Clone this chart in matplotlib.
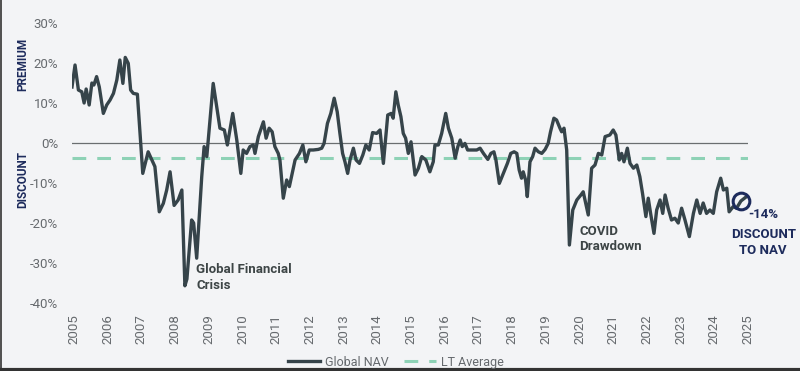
import matplotlib
matplotlib.use("Agg")
import matplotlib.pyplot as plt
from matplotlib.lines import Line2D

plt.rcParams['font.family'] = ['Roboto', 'DejaVu Sans']

# dados (ano decimal, prêmio/desconto em %)
years = [2004.94, 2005.03, 2005.13, 2005.23, 2005.30, 2005.36, 2005.45, 2005.53, 2005.59, 2005.67,
         2005.75, 2005.87, 2005.97, 2006.07, 2006.17, 2006.27, 2006.36, 2006.45, 2006.52, 2006.61,
         2006.68, 2006.76, 2006.88, 2007.04, 2007.20, 2007.31, 2007.40, 2007.53, 2007.65, 2007.75,
         2007.85, 2007.97, 2008.09, 2008.20, 2008.29, 2008.35, 2008.49, 2008.55, 2008.64, 2008.79,
         2008.86, 2008.94, 2009.13, 2009.33, 2009.46, 2009.55, 2009.71, 2009.83, 2009.95, 2010.02,
         2010.12, 2010.22, 2010.32, 2010.37, 2010.47, 2010.62, 2010.70, 2010.79, 2010.88, 2010.96,
         2011.06, 2011.11, 2011.21, 2011.31, 2011.39, 2011.56, 2011.69, 2011.79, 2011.88, 2011.98,
         2012.10, 2012.25, 2012.35, 2012.42, 2012.52, 2012.62, 2012.72, 2012.81, 2012.89, 2012.97,
         2013.04, 2013.12, 2013.19, 2013.29, 2013.37, 2013.47, 2013.57, 2013.66, 2013.76, 2013.86,
         2013.98, 2014.08, 2014.18, 2014.31, 2014.41, 2014.47, 2014.55, 2014.62, 2014.70, 2014.77,
         2014.84, 2014.92, 2015.00, 2015.12, 2015.22, 2015.32, 2015.44, 2015.56, 2015.66, 2015.71,
         2015.81, 2015.91, 2016.03, 2016.11, 2016.21, 2016.31, 2016.39, 2016.46, 2016.52, 2016.60,
         2016.68, 2016.82, 2016.95, 2017.05, 2017.15, 2017.28, 2017.37, 2017.46, 2017.52, 2017.62,
         2017.74, 2017.86, 2017.96, 2018.06, 2018.14, 2018.21, 2018.28, 2018.33, 2018.40, 2018.45,
         2018.53, 2018.61, 2018.68, 2018.78, 2018.88, 2018.98, 2019.07, 2019.14, 2019.24, 2019.32,
         2019.42, 2019.47, 2019.54, 2019.62, 2019.70, 2019.80, 2019.92, 2020.04, 2020.11, 2020.26,
         2020.36, 2020.46, 2020.56, 2020.66, 2020.76, 2020.90, 2021.00, 2021.08, 2021.18, 2021.25,
         2021.32, 2021.42, 2021.50, 2021.60, 2021.70, 2021.79, 2021.87, 2021.97, 2022.04, 2022.11,
         2022.21, 2022.29, 2022.39, 2022.47, 2022.54, 2022.63, 2022.73, 2022.83, 2022.93, 2023.03,
         2023.13, 2023.26, 2023.38, 2023.48, 2023.58, 2023.67, 2023.77, 2023.87, 2023.97, 2024.07,
         2024.19, 2024.27, 2024.37, 2024.44, 2024.56, 2024.66, 2024.79, 2024.94]
nav = [14.0, 19.5, 13.25, 12.8, 10.0, 13.5, 9.5, 15.0, 14.5, 16.6,
       14.0, 7.4, 9.5, 10.75, 12.4, 15.75, 20.75, 14.9, 21.4, 19.9,
       13.25, 12.4, 12.2, -7.6, -2.2, -4.25, -5.9, -17.2, -15.1, -11.75,
       -7.2, -15.6, -14.25, -11.75, -35.7, -34.0, -19.25, -20.0, -28.8, -8.4,
       -0.9, -3.4, 14.9, 3.7, 3.25, -0.5, 7.4, 0.75, -7.6, -1.75,
       -2.6, -0.9, -0.5, -2.6, 1.6, 5.3, 1.2, 3.7, 2.8, -0.9,
       -2.6, -4.25, -13.8, -9.25, -10.9, -4.25, -2.6, -0.5, -4.7, -1.75,
       -1.75, -1.6, -1.3, -0.1, 4.9, 7.4, 11.2, 7.8, 2.4, -2.6,
       -4.7, -7.6, -4.25, -1.3, -4.25, -5.1, -3.0, -0.5, -1.75, 2.6,
       2.4, 3.25, -5.1, 7.0, 7.4, 6.2, 12.8, 9.5, 6.6, 2.4,
       1.2, -2.6, 0.3, -8.0, -6.3, -3.4, -4.25, -7.2, -4.7, -0.5,
       -0.5, 2.4, 7.4, 3.7, 1.2, -3.8, -0.9, 0.75, -0.9, -0.1,
       -1.75, -1.75, -1.75, -1.3, -2.6, -4.1, -2.6, -2.2, -4.25, -10.1,
       -7.6, -5.1, -2.6, -2.2, -2.6, -6.75, -8.8, -7.2, -9.25, -13.4,
       -4.7, -3.4, -1.3, -2.2, -2.6, -1.6, -0.1, 2.8, 6.2, 5.75,
       3.7, 2.8, 3.7, -1.75, -25.5, -16.75, -14.25, -13.0, -12.2, -18.0,
       -6.3, -5.5, -2.6, -3.0, 1.6, 2.0, 3.25, 2.0, -4.25, -2.6,
       -4.7, -1.3, -5.1, -6.3, -5.5, -8.4, -12.6, -18.4, -13.8, -17.6,
       -22.6, -16.75, -14.25, -17.6, -13.0, -16.3, -19.25, -18.8, -20.0, -16.3,
       -19.25, -23.4, -17.6, -14.25, -17.6, -15.0, -17.6, -16.75, -17.6, -12.2,
       -8.8, -11.75, -11.3, -17.2, -15.9, -16.3, -14.5, -13.5]
lt_average = -3.75
year_ticks = list(range(2005, 2026))
pct_ticks = [30, 20, 10, 0, -10, -20, -30, -40]

navy = '#1d2b5c'
line_col = '#36444a'
green = '#8ed2b6'
grey_txt = '#666a6e'
bg = '#f3f4f6'

fig = plt.figure(figsize=(8, 3.71), dpi=100, facecolor=bg)
ax = fig.add_axes([0.09, 0.1833, 0.845, 0.7547])
ax.set_facecolor(bg)

ax.axhline(0, color='#6a6e70', linewidth=0.9, zorder=1)
ax.axhline(lt_average, color=green, linewidth=2.2, dashes=(4.5, 3.6), zorder=2)
ax.plot(years, nav, color=line_col, linewidth=2.4, solid_joinstyle='round', zorder=3)

# circulo no ultimo valor
ax.plot([years[-2]], [nav[-2]], marker='o', markersize=12, markerfacecolor='none',
        markeredgecolor=navy, markeredgewidth=2.2, zorder=4, clip_on=False)

ax.set_xlim(2004.94, 2025.0)
ax.set_ylim(-40, 30)
ax.set_xticks(year_ticks)
ax.set_xticklabels([str(y) for y in year_ticks], rotation=90)
ax.set_yticks(pct_ticks)
ax.set_yticklabels(['{}%'.format(p) for p in pct_ticks])
ax.tick_params(axis='x', length=0, pad=8, labelsize=9.5, colors=grey_txt)
ax.tick_params(axis='y', length=0, pad=10, labelsize=9.5, colors=grey_txt)
for s in ax.spines.values():
    s.set_visible(False)

ann = dict(fontsize=9.5, fontweight='bold', color='#3d4546')
ax.text(2008.62, -33.6, 'Global Financial\nCrisis', ha='left', va='center', linespacing=1.25, **ann)
ax.text(2019.99, -24.0, 'COVID\nDrawdown', ha='left', va='center', linespacing=1.25, **ann)

ax.text(2025.45, -17.8, '-14%', ha='center', va='center', fontsize=9.5, fontweight='bold', color=navy)
ax.text(2025.45, -24.8, 'DISCOUNT\nTO NAV', ha='center', va='center', fontsize=9.5,
        fontweight='bold', color=navy, linespacing=1.3)

fig.text(0.029, 0.827, 'PREMIUM', rotation=90, ha='center', va='center', fontsize=8.5,
         fontweight='bold', color=navy)
fig.text(0.029, 0.515, 'DISCOUNT', rotation=90, ha='center', va='center', fontsize=8.5,
         fontweight='bold', color=navy)

handles = [Line2D([], [], color=line_col, linewidth=2.4),
           Line2D([], [], color=green, linewidth=2.2, dashes=(4.5, 3.6))]
fig.legend(handles, ['Global NAV', 'LT Average'], loc='center', bbox_to_anchor=(0.495, 0.024),
           ncol=2, frameon=False, fontsize=9, handlelength=2.6, columnspacing=1.2,
           handletextpad=0.4, labelcolor=grey_txt)

# moldura da captura
fig.add_artist(Line2D([0.0012, 0.0012], [0, 1], transform=fig.transFigure, color='#333333', linewidth=1.2))
fig.add_artist(Line2D([0, 1], [0.004, 0.004], transform=fig.transFigure, color='#333333', linewidth=3))

fig.savefig('out.png', dpi=100, facecolor=bg)
